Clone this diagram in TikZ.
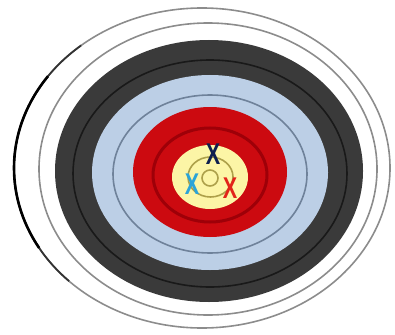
\documentclass[tikz,border=0pt]{standalone}
\usepackage{fontspec}
\usepackage{xcolor}
\usepackage{tikz}
\newfontfamily\hitfont{Liberation Sans}
\definecolor{ringgray}{HTML}{8c8c8c}
\definecolor{darkring}{HTML}{3a3a3a}
\definecolor{bluering}{HTML}{bccfe6}
\definecolor{blueline}{HTML}{6f829a}
\definecolor{redring}{HTML}{cc0a10}
\definecolor{redline}{HTML}{9e0008}
\definecolor{goldring}{HTML}{fcf5a6}
\definecolor{goldline}{HTML}{ada04a}
\definecolor{hitnavy}{HTML}{0e1f4f}
\definecolor{hitcyan}{HTML}{2ba4d8}
\definecolor{hitred}{HTML}{e2231a}

\begin{document}
\begin{tikzpicture}[x=1pt,y=-1pt,
  ring/.style={draw=#1,line width=1.6pt},
  hit/.style={inner sep=0pt,text=#1,xscale=0.72,font=\hitfont\bfseries\fontsize{30}{30}\selectfont}]
  \useasboundingbox (0,0) rectangle (395,334);
  % outer white zone
  \draw[ring=ringgray] (202,168) ellipse [x radius=188,y radius=160];
  \draw[ring=ringgray] (208,169) ellipse [x radius=169,y radius=146];
  \draw[line width=1.8pt,black!80] (202,168) ++(135:188 and 160) arc [start angle=135,end angle=230,x radius=188,y radius=160];
  \draw[line width=2.6pt] (202,168) ++(150:188 and 160) arc [start angle=150,end angle=215,x radius=188,y radius=160];
  % coloured zones
  \foreach \cx/\cy/\rx/\ry/\col in {209/171/154/131/darkring,210/172.5/118/97.5/bluering,
    210/172/77/65/redring,210/177/38/32/goldring}
    \fill[\col] (\cx,\cy) ellipse [x radius=\rx,y radius=\ry];
  % dividing lines
  \draw[ring=black!90] (210,173.5) ellipse [x radius=137,y radius=113.5];
  \draw[ring=blueline] (210,174) ellipse [x radius=97,y radius=79];
  \draw[redline,line width=3pt] (210,175) ellipse [x radius=57,y radius=47];
  \draw[ring=goldline] (210.5,177) ellipse [x radius=22.5,y radius=20];
  \draw[ring=goldline] (210,178) ellipse [x radius=8,y radius=8];
  % hits
  \node[hit=hitnavy] (top) at (213,154) {X};
  \node[hit=hitcyan] (left) at (192,184) {X};
  \node[hit=hitred] (right) at (230,188) {X};
\end{tikzpicture}
\end{document}
